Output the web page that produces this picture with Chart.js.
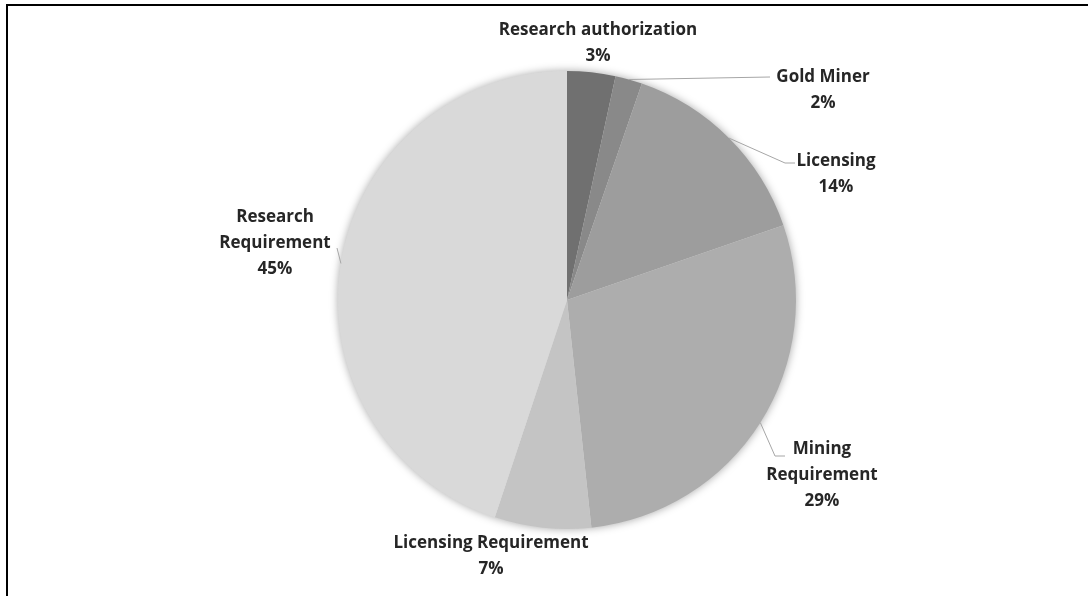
<!DOCTYPE html>
<html>
<head>
<meta charset="utf-8">
<script src="https://cdn.jsdelivr.net/npm/chart.js@4.4.1/dist/chart.umd.min.js"></script>
<style>
  html, body { margin: 0; padding: 0; background: #fff; }
  #wrap { position: relative; width: 1088px; height: 596px; }
  #frame { position: absolute; left: 6px; top: 4px; right: 0; bottom: 0;
           border-left: 2px solid #000; border-top: 2px solid #000; pointer-events: none; }
</style>
</head>
<body>
<div id="wrap">
  <canvas id="chart" width="1088" height="596"></canvas>
  <div id="frame"></div>
</div>
<script>
/* ── Data ── */
const categories = [
  ['Research authorization'],
  ['Gold Miner'],
  ['Licensing'],
  ['Mining', 'Requirement'],
  ['Licensing Requirement'],
  ['Research', 'Requirement'],
];
const shares = [3.4, 1.9, 14.4, 28.6, 6.8, 44.9];
const sliceColors = ['#707070', '#898989', '#9d9d9d', '#adadad', '#c4c4c4', '#d9d9d9'];

/* ── Label layout (text centre, leader elbow) ── */
const LABEL_POS = [
  { x: 598, y: 30, leader: null },
  { x: 823, y: 77, leader: [[770, 77]] },
  { x: 836, y: 161, leader: [[785, 163], [795, 163]] },
  { x: 822, y: 449, leader: [[775, 456], [785, 456]] },
  { x: 491, y: 543, leader: null },
  { x: 275, y: 217, leader: [[337, 248]] },
];
const LINE_H = 26;

const total = shares.reduce((a, b) => a + b, 0);
function pct(v) { return Math.round(v / total * 100) + '%'; }

/* ── Plugins ── */
const pieShadow = {
  id: 'pieShadow',
  beforeDatasetsDraw(chart) {
    const arc = chart.getDatasetMeta(0).data[0];
    if (!arc) return;
    const ctx = chart.ctx;
    ctx.save();
    ctx.shadowColor = 'rgba(0,0,0,0.35)';
    ctx.shadowBlur = 9;
    ctx.fillStyle = '#d9d9d9';
    ctx.beginPath();
    ctx.arc(arc.x, arc.y, arc.outerRadius, 0, Math.PI * 2);
    ctx.fill();
    ctx.restore();
  }
};

const sliceLabels = {
  id: 'sliceLabels',
  afterDatasetsDraw(chart) {
    const ctx = chart.ctx;
    const meta = chart.getDatasetMeta(0);
    ctx.save();
    meta.data.forEach((arc, i) => {
      const pos = LABEL_POS[i];
      if (pos.leader) {
        const mid = (arc.startAngle + arc.endAngle) / 2;
        ctx.strokeStyle = '#a6a6a6';
        ctx.lineWidth = 1;
        ctx.beginPath();
        ctx.moveTo(arc.x + Math.cos(mid) * arc.outerRadius, arc.y + Math.sin(mid) * arc.outerRadius);
        pos.leader.forEach(p => ctx.lineTo(p[0], p[1]));
        ctx.stroke();
      }
      const lines = categories[i].concat([pct(shares[i])]);
      ctx.fillStyle = '#262626';
      ctx.font = "bold 17px 'Open Sans', sans-serif";
      ctx.textAlign = 'center';
      ctx.textBaseline = 'middle';
      lines.forEach((t, k) => ctx.fillText(t, pos.x, pos.y + k * LINE_H));
    });
    ctx.restore();
  }
};

/* ── Chart ── */
new Chart(document.getElementById('chart'), {
  type: 'pie',
  data: {
    labels: categories.map(c => c.join(' ')),
    datasets: [{
      data: shares,
      backgroundColor: sliceColors,
      borderWidth: 0,
    }]
  },
  options: {
    responsive: false,
    animation: false,
    layout: { padding: { top: 71, bottom: 67, left: 46, right: 0 } },
    plugins: {
      legend: { display: false },
      tooltip: { enabled: false },
    }
  },
  plugins: [pieShadow, sliceLabels]
});
</script>
</body>
</html>
